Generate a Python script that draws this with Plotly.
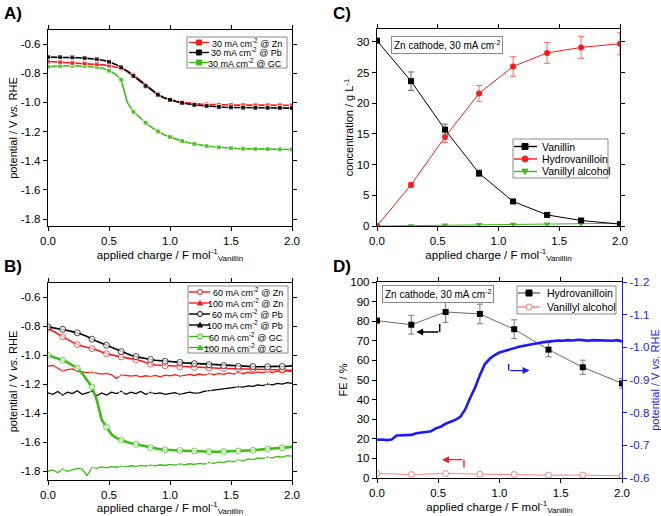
import numpy as np
import plotly.graph_objects as go

W, H = 661, 516
FONT = "Arial, 'Liberation Sans', sans-serif"
RED = "#ff1a1a"
BLACK = "#000000"
GREEN = "#3cbe14"
BLUE = "#1a1aff"
PINK = "#ff7f7f"
GRAYBOX = "#8a8a8a"

# ---------------- Panel A: potential vs charge, 30 mA cm-2 ----------------
a_x = np.round(np.arange(0, 2.0001, 0.05), 2)
a_zn = [-0.72, -0.722, -0.725, -0.727, -0.729, -0.731, -0.733, -0.736, -0.739, -0.743,
        -0.748, -0.756, -0.768, -0.785, -0.81, -0.845, -0.88, -0.915, -0.945, -0.968,
        -0.983, -0.993, -1.0, -1.005, -1.009, -1.012, -1.014, -1.016, -1.017, -1.018,
        -1.018, -1.019, -1.019, -1.02, -1.02, -1.02, -1.02, -1.02, -1.02, -1.02, -1.02]
a_pb = [-0.69, -0.69, -0.69, -0.691, -0.692, -0.694, -0.697, -0.7, -0.705, -0.712,
        -0.722, -0.738, -0.76, -0.788, -0.82, -0.855, -0.89, -0.92, -0.948, -0.968,
        -0.983, -0.995, -1.004, -1.012, -1.018, -1.022, -1.026, -1.029, -1.032, -1.034,
        -1.035, -1.036, -1.037, -1.037, -1.038, -1.038, -1.038, -1.039, -1.039, -1.04, -1.04]
a_gc = [-0.755, -0.752, -0.75, -0.749, -0.749, -0.75, -0.752, -0.755, -0.759, -0.766,
        -0.783, -0.805, -0.845, -1.0, -1.065, -1.105, -1.14, -1.172, -1.2, -1.222,
        -1.238, -1.253, -1.266, -1.277, -1.286, -1.294, -1.3, -1.305, -1.309, -1.312,
        -1.315, -1.317, -1.318, -1.319, -1.32, -1.32, -1.321, -1.322, -1.322, -1.323, -1.323]

# ---------------- Panel B: potential vs charge, 60/100 mA cm-2 ----------------
b_x = np.round(np.arange(0, 2.0001, 0.04), 2)
b_zn60 = [-0.815, -0.835, -0.855, -0.874, -0.89, -0.91, -0.928, -0.936, -0.945, -0.955,
          -0.965, -0.978, -0.99, -0.998, -1.005, -1.012, -1.02, -1.025, -1.03, -1.038,
          -1.05, -1.062, -1.068, -1.07, -1.073, -1.076, -1.078, -1.08, -1.082, -1.083,
          -1.085, -1.086, -1.087, -1.088, -1.089, -1.09, -1.091, -1.092, -1.092, -1.093,
          -1.094, -1.095, -1.095, -1.096, -1.097, -1.098, -1.099, -1.1, -1.101, -1.102, -1.104]
b_zn100 = [-1.076, -1.07, -1.09, -1.11, -1.1, -1.095, -1.11, -1.115, -1.12, -1.118,
           -1.125, -1.13, -1.125, -1.135, -1.16, -1.138, -1.14, -1.145, -1.14, -1.15,
           -1.142, -1.148, -1.14, -1.15, -1.138, -1.142, -1.135, -1.145, -1.14, -1.132,
           -1.14, -1.13, -1.138, -1.128, -1.135, -1.125, -1.132, -1.122, -1.13, -1.12,
           -1.128, -1.118, -1.125, -1.115, -1.122, -1.112, -1.12, -1.11, -1.118, -1.108, -1.115]
b_pb60 = [-0.805, -0.81, -0.815, -0.822, -0.83, -0.838, -0.846, -0.858, -0.872, -0.89,
          -0.905, -0.918, -0.932, -0.947, -0.96, -0.976, -0.99, -1.0, -1.01, -1.018,
          -1.024, -1.03, -1.035, -1.039, -1.042, -1.045, -1.047, -1.05, -1.053, -1.055,
          -1.058, -1.06, -1.063, -1.066, -1.068, -1.07, -1.072, -1.074, -1.075, -1.077,
          -1.078, -1.08, -1.079, -1.08, -1.078, -1.08, -1.079, -1.077, -1.078, -1.076, -1.074]
b_pb100 = [-1.26, -1.27, -1.25, -1.275, -1.255, -1.265, -1.245, -1.27, -1.26, -1.25,
           -1.28, -1.26, -1.275, -1.255, -1.265, -1.25, -1.27, -1.255, -1.265, -1.25,
           -1.27, -1.258, -1.265, -1.26, -1.27, -1.262, -1.258, -1.27, -1.26, -1.255,
           -1.262, -1.26, -1.25, -1.245, -1.24, -1.238, -1.23, -1.228, -1.225, -1.218,
           -1.22, -1.212, -1.215, -1.205, -1.21, -1.2, -1.205, -1.195, -1.2, -1.19, -1.195]
b_gc60 = [-1.0, -1.01, -1.02, -1.035, -1.05, -1.07, -1.09, -1.125, -1.17, -1.22,
          -1.31, -1.445, -1.495, -1.545, -1.57, -1.585, -1.597, -1.607, -1.614, -1.622,
          -1.63, -1.637, -1.643, -1.648, -1.652, -1.655, -1.656, -1.657, -1.658, -1.66,
          -1.66, -1.662, -1.663, -1.665, -1.665, -1.665, -1.664, -1.663, -1.662, -1.66,
          -1.658, -1.656, -1.655, -1.652, -1.65, -1.647, -1.645, -1.642, -1.638, -1.635, -1.632]
b_gc100 = [-1.8, -1.79, -1.81, -1.785, -1.8, -1.79, -1.78, -1.785, -1.83, -1.775,
           -1.78, -1.77, -1.775, -1.768, -1.772, -1.765, -1.77, -1.762, -1.768, -1.76,
           -1.765, -1.758, -1.762, -1.755, -1.76, -1.752, -1.758, -1.75, -1.755, -1.748,
           -1.752, -1.745, -1.75, -1.74, -1.745, -1.735, -1.74, -1.728, -1.735, -1.722,
           -1.728, -1.715, -1.72, -1.708, -1.712, -1.702, -1.708, -1.698, -1.702, -1.692, -1.695]

# ---------------- Panel C: concentrations ----------------
c_x = [0.0, 0.28, 0.56, 0.84, 1.12, 1.40, 1.68, 2.0]
c_vanillin = [30.2, 23.6, 15.7, 8.6, 4.0, 1.8, 0.9, 0.3]
c_vanillin_err = [0.2, 1.5, 0.9, 0.5, 0.25, 0.2, 0.2, 0.15]
c_hydro = [0.0, 6.7, 14.5, 21.6, 26.0, 28.2, 29.1, 29.7]
c_hydro_err = [0.0, 0.4, 0.9, 1.3, 1.6, 1.7, 1.8, 1.8]
c_alcohol = [0.0, 0.05, 0.15, 0.25, 0.3, 0.33, 0.4, 0.45]

# ---------------- Panel D: Faradaic efficiency + potential ----------------
d_x = [0.0, 0.28, 0.56, 0.84, 1.12, 1.40, 1.68, 2.0]
d_fe_hydro = [80.3, 78.2, 84.7, 83.7, 75.9, 65.5, 56.5, 48.3]
d_fe_hydro_err = [0.0, 4.8, 5.3, 5.0, 4.8, 3.7, 3.6, 2.5]
d_fe_alcohol = [2.3, 1.8, 2.3, 1.9, 1.8, 1.4, 1.5, 1.1]
d_pot_x = np.round(np.arange(0, 2.0001, 0.04), 2)
d_pot = [-0.717, -0.718, -0.716, -0.718, -0.73, -0.731, -0.733, -0.732, -0.737, -0.74,
         -0.741, -0.743, -0.752, -0.757, -0.766, -0.772, -0.778, -0.787, -0.81, -0.845,
         -0.876, -0.915, -0.948, -0.965, -0.976, -0.984, -0.989, -0.993, -0.998, -1.002,
         -1.005, -1.007, -1.01, -1.013, -1.016, -1.018, -1.02, -1.021, -1.02, -1.022,
         -1.021, -1.023, -1.022, -1.02, -1.022, -1.021, -1.02, -1.021, -1.02, -1.022, -1.018]

pot_ticks = [-0.6, -0.8, -1.0, -1.2, -1.4, -1.6, -1.8]
pot_ticktext = ["-0.6", "-0.8", "-1.0", "-1.2", "-1.4", "-1.6", "-1.8"]
rhs_ticks = [-0.6, -0.7, -0.8, -0.9, -1.0, -1.1, -1.2]
rhs_ticktext = ["-0.6", "-0.7", "-0.8", "-0.9", "-1.0", "-1.1", "-1.2"]

XTITLE = "applied charge / F mol<sup>-1</sup><sub>Vanillin</sub>"
YPOT = "potential / V <i>vs.</i> RHE"


def every(n_points, step, size, start=0):
    return [size if (i - start) % step == 0 and i >= start else 0 for i in range(n_points)]


fig = go.Figure()

# Panel A traces
for ys, col in [(a_gc, GREEN), (a_zn, RED), (a_pb, BLACK)]:
    fig.add_trace(go.Scatter(x=a_x, y=ys, mode="lines+markers", xaxis="x", yaxis="y",
                             line=dict(color=col, width=1.6),
                             marker=dict(symbol="square", color=col, size=every(len(a_x), 2, 5)),
                             showlegend=False, hoverinfo="skip"))

# Panel B traces
for ys, col in [(b_gc100, GREEN), (b_pb100, BLACK), (b_zn100, RED)]:
    fig.add_trace(go.Scatter(x=b_x, y=ys, mode="lines+markers", xaxis="x2", yaxis="y2",
                             line=dict(color=col, width=1.3),
                             marker=dict(symbol="triangle-up", color=col, size=every(len(b_x), 6, 4, 3)),
                             showlegend=False, hoverinfo="skip"))
for ys, col, w in [(b_gc60, GREEN, 2.6), (b_zn60, RED, 1.6), (b_pb60, BLACK, 1.6)]:
    fig.add_trace(go.Scatter(x=b_x, y=ys, mode="lines+markers", xaxis="x2", yaxis="y2",
                             line=dict(color=col, width=w),
                             marker=dict(symbol="circle", color="white", line=dict(color=col, width=1),
                                         size=every(len(b_x), 3, 6)),
                             showlegend=False, hoverinfo="skip"))

# Panel C traces
fig.add_trace(go.Scatter(x=c_x, y=c_alcohol, mode="lines+markers", xaxis="x3", yaxis="y3",
                         line=dict(color=GREEN, width=1),
                         marker=dict(symbol="triangle-down", color=GREEN, size=6),
                         showlegend=False, hoverinfo="skip"))
fig.add_trace(go.Scatter(x=c_x, y=c_hydro, mode="lines+markers", xaxis="x3", yaxis="y3",
                         line=dict(color=RED, width=1),
                         marker=dict(symbol="circle", color=RED, size=6),
                         error_y=dict(type="data", array=c_hydro_err, color="#ff6a6a", thickness=1, width=3),
                         showlegend=False, hoverinfo="skip"))
fig.add_trace(go.Scatter(x=c_x, y=c_vanillin, mode="lines+markers", xaxis="x3", yaxis="y3",
                         line=dict(color=BLACK, width=1),
                         marker=dict(symbol="square", color=BLACK, size=6),
                         error_y=dict(type="data", array=c_vanillin_err, color="#6a6a6a", thickness=1, width=3),
                         showlegend=False, hoverinfo="skip"))

# Panel D traces
fig.add_trace(go.Scatter(x=d_pot_x, y=d_pot, mode="lines", xaxis="x4", yaxis="y5",
                         line=dict(color=BLUE, width=2.6), showlegend=False, hoverinfo="skip"))
fig.add_trace(go.Scatter(x=d_x, y=d_fe_alcohol, mode="lines+markers", xaxis="x4", yaxis="y4",
                         line=dict(color=PINK, width=1),
                         marker=dict(symbol="circle", color="white", size=6, line=dict(color=PINK, width=1)),
                         showlegend=False, hoverinfo="skip"))
fig.add_trace(go.Scatter(x=d_x, y=d_fe_hydro, mode="lines+markers", xaxis="x4", yaxis="y4",
                         line=dict(color="#6a6a6a", width=1),
                         marker=dict(symbol="square", color=BLACK, size=6),
                         error_y=dict(type="data", array=d_fe_hydro_err, color="#7a7a7a", thickness=1, width=3),
                         showlegend=False, hoverinfo="skip"))


def dom_x(p0, p1):
    return [p0 / W, p1 / W]


def dom_y(top, bottom):
    return [1 - bottom / H, 1 - top / H]


TICKFONT = dict(family=FONT, size=11.5, color="black")


def ax_common(**kw):
    d = dict(showgrid=False, zeroline=False, showline=True, linecolor="black", linewidth=1.4,
             ticks="outside", ticklen=4, tickwidth=1.2, tickcolor="black", automargin=False,
             tickfont=TICKFONT, mirror="ticks")
    d.update(kw)
    return d


xt = dict(text=XTITLE, font=dict(family=FONT, size=11.5, color="black"), standoff=4)


def yt(text, color="black", standoff=0):
    return dict(text=text, font=dict(family=FONT, size=11, color=color), standoff=standoff)


fig.update_layout(
    width=W, height=H, margin=dict(l=0, r=0, t=0, b=0, pad=0, autoexpand=False),
    paper_bgcolor="white", plot_bgcolor="white",
    font=dict(family=FONT, size=11, color="black"),
    xaxis=ax_common(domain=dom_x(48, 292), range=[0, 2.0], dtick=0.5, tickformat=".1f",
                    anchor="y", title=xt),
    yaxis=ax_common(domain=dom_y(30, 226), range=[-1.848, -0.504], tickvals=pot_ticks,
                    ticktext=pot_ticktext, anchor="x", title=yt(YPOT)),
    xaxis2=ax_common(domain=dom_x(48, 292), range=[0, 2.0], dtick=0.5, tickformat=".1f",
                     anchor="y2", title=xt),
    yaxis2=ax_common(domain=dom_y(283, 480), range=[-1.86, -0.503], tickvals=pot_ticks,
                     ticktext=pot_ticktext, anchor="x2", title=yt(YPOT)),
    xaxis3=ax_common(domain=dom_x(377, 620), range=[0, 2.0], dtick=0.5, tickformat=".1f",
                     anchor="y3", title=xt),
    yaxis3=ax_common(domain=dom_y(29, 226), range=[0, 32.1], dtick=5, anchor="x3",
                     title=yt("concentration / g L<sup>-1</sup>")),
    xaxis4=ax_common(domain=dom_x(377, 622), range=[0, 2.0], dtick=0.5, tickformat=".1f",
                     anchor="y4", title=xt),
    yaxis4=ax_common(domain=dom_y(282, 478), range=[0, 100], dtick=10, anchor="x4",
                     mirror=False, title=yt("FE / %")),
    yaxis5=ax_common(domain=dom_y(282, 478), range=[-0.6, -1.2], tickvals=rhs_ticks,
                     ticktext=rhs_ticktext, anchor="x4", overlaying="y4", side="right",
                     mirror=False, linecolor=BLUE, tickcolor=BLUE,
                     tickfont=dict(family=FONT, size=11.5, color=BLUE),
                     title=yt(YPOT, BLUE)),
)

shapes = []
annotations = []


def P(px, py):
    return px / W, 1 - py / H


def sym_shape(kind, cx, cy, color, filled, size):
    ax, ay = P(cx, cy)
    h = size / 2
    common = dict(xref="paper", yref="paper", xsizemode="pixel", ysizemode="pixel",
                  xanchor=ax, yanchor=ay, line=dict(color=color, width=1),
                  fillcolor=color if filled else "white", layer="above")
    if kind == "square":
        return dict(type="rect", x0=-h, x1=h, y0=-h, y1=h, **common)
    if kind == "circle":
        return dict(type="circle", x0=-h, x1=h, y0=-h, y1=h, **common)
    if kind == "tri-up":
        return dict(type="path", path=f"M {-h},{-h * 0.8} L {h},{-h * 0.8} L 0,{h} Z", **common)
    return dict(type="path", path=f"M {-h},{h * 0.8} L {h},{h * 0.8} L 0,{-h} Z", **common)


def legend_block(box, rows, line_x, marker_x, text_x, align, fsize, msize):
    x0, y0 = P(box[0], box[3])
    x1, y1 = P(box[2], box[1])
    shapes.append(dict(type="rect", xref="paper", yref="paper", x0=x0, x1=x1, y0=y0, y1=y1,
                       line=dict(color=GRAYBOX, width=1), fillcolor="white", layer="above"))
    for (cy, color, mcolor, kind, filled, label) in rows:
        lx0, ly = P(line_x[0], cy)
        lx1, _ = P(line_x[1], cy)
        shapes.append(dict(type="line", xref="paper", yref="paper", x0=lx0, x1=lx1, y0=ly, y1=ly,
                           line=dict(color=color, width=1.4), layer="above"))
        shapes.append(sym_shape(kind, marker_x, cy, mcolor, filled, msize))
        tx, ty = P(text_x, cy)
        annotations.append(dict(xref="paper", yref="paper", x=tx, y=ty, text=label, showarrow=False,
                                xanchor=align, yanchor="middle",
                                font=dict(family=FONT, size=fsize, color="black")))


CM2 = "mA cm<sup>-2</sup>"
legend_block((187, 37, 287, 68),
             [(42.5, RED, RED, "square", True, f"30 {CM2} @ Zn"),
              (52.5, BLACK, BLACK, "square", True, f"30 {CM2} @ Pb"),
              (62.5, GREEN, GREEN, "square", True, f"30 {CM2} @ GC")],
             (189, 209), 199, 284, "right", 9, 5)
legend_block((188, 286, 288, 353),
             [(292, RED, RED, "circle", False, f"60 {CM2} @ Zn"),
              (303, RED, RED, "tri-up", True, f"100 {CM2} @ Zn"),
              (314, BLACK, BLACK, "circle", False, f"60 {CM2} @ Pb"),
              (325, BLACK, BLACK, "tri-up", True, f"100 {CM2} @ Pb"),
              (336.5, GREEN, GREEN, "circle", False, f"60 {CM2} @ GC"),
              (347.5, GREEN, GREEN, "tri-up", True, f"100 {CM2} @ GC")],
             (189, 210), 200, 285, "right", 9, 5)
legend_block((513, 139, 608, 178),
             [(146.5, BLACK, BLACK, "square", True, "Vanillin"),
              (159, RED, RED, "circle", True, "Hydrovanilloin"),
              (171.5, GREEN, GREEN, "tri-down", True, "Vanillyl alcohol")],
             (514, 537), 525, 540, "left", 10.5, 6)
legend_block((517, 286, 616, 314),
             [(293, "#6a6a6a", BLACK, "square", True, "Hydrovanilloin"),
              (307, PINK, PINK, "circle", False, "Vanillyl alcohol")],
             (518, 540), 529, 545, "left", 10.5, 6)

# Info boxes
for cx, cy in [(446.5, 44.5), (437.5, 294)]:
    x, y = P(cx, cy)
    annotations.append(dict(xref="paper", yref="paper", x=x, y=y, text=f"Zn cathode, 30 {CM2}",
                            showarrow=False, xanchor="center", yanchor="middle",
                            bordercolor=GRAYBOX, borderwidth=1, borderpad=2, bgcolor="white",
                            font=dict(family=FONT, size=10, color="black")))

# Panel labels
for lab, px, py in [("A)", 2, 13), ("B)", 2, 266), ("C)", 331, 13), ("D)", 331, 266)]:
    x, y = P(px, py)
    annotations.append(dict(xref="paper", yref="paper", x=x, y=y, text=f"<b>{lab}</b>",
                            showarrow=False, xanchor="left", yanchor="middle",
                            font=dict(family=FONT, size=17, color="black")))

# Axis-assignment arrows in panel D
for (xv, ybot, ytop, xtip, col) in [
        (0.512, 78.6, 74.5, 0.32, BLACK),
        (1.075, 58.2, 54.8, 1.246, BLUE),
        (0.71, 5.4, 9.35, 0.53, RED)]:
    shapes.append(dict(type="line", xref="x4", yref="y4", x0=xv, x1=xv, y0=ybot, y1=ytop,
                       line=dict(color=col, width=1.4), layer="above"))
    annotations.append(dict(xref="x4", yref="y4", axref="x4", ayref="y4", x=xtip, y=ytop,
                            ax=xv, ay=ytop, text="", showarrow=True, arrowhead=2, arrowsize=1,
                            arrowwidth=1.4, arrowcolor=col, standoff=0, startstandoff=0))

fig.update_layout(shapes=shapes, annotations=annotations)
fig.write_html("out.html", config={"displayModeBar": False},
               post_script="document.body.style.margin='0px';document.body.style.overflow='hidden';")
